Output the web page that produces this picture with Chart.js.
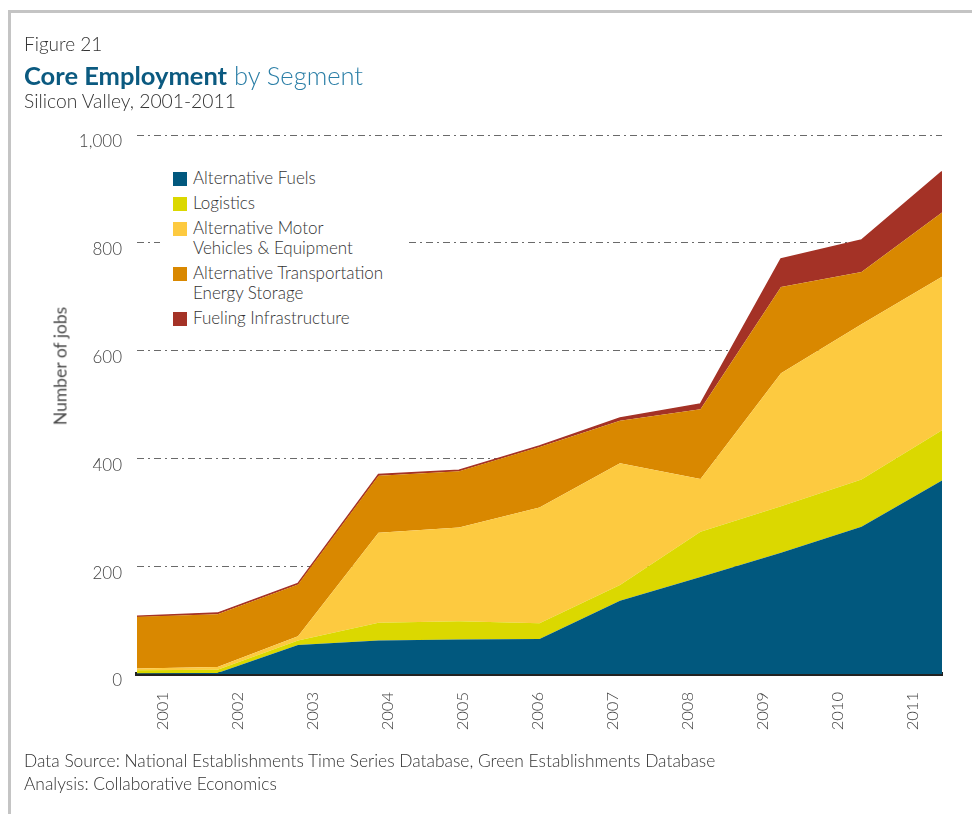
<!DOCTYPE html>
<html>
<head>
<meta charset="utf-8">
<script src="https://cdn.jsdelivr.net/npm/chart.js@4/dist/chart.umd.min.js"></script>
<style>
  html, body { margin: 0; padding: 0; background: #fff; }
  body { width: 972px; height: 814px; position: relative; overflow: hidden; font-family: Lato, "Open Sans", sans-serif; color: #333; }
  #frame { position: absolute; left: 8px; top: 10px; width: 980px; height: 820px; border-top: 3px solid #c4c4c4; border-left: 3px solid #c4c4c4; }
  #canvasWrap { position: absolute; left: 0; top: 0; width: 972px; height: 814px; }
  .t { position: absolute; left: 24px; white-space: nowrap; }
  #fig { top: 32px; font-size: 19px; font-weight: 300; }
  #title { top: 60px; font-size: 25.5px; color: #2a7ea6; font-weight: 300; }
  #title b { color: #0b5a80; font-weight: 700; }
  #sub { top: 89px; font-size: 19.3px; font-weight: 300; }
  #src { top: 749px; font-size: 17.4px; line-height: 23px; font-weight: 300; }
  #ytitle { position: absolute; left: 60px; top: 366px; transform: translate(-50%, -50%) rotate(-90deg); font-size: 17.5px; font-weight: 400; white-space: nowrap; color: #4a4a4a; }
  #legend { position: absolute; left: 160px; top: 166px; width: 245px; background: #fff; padding: 2px 0 4px 0; }
  .li { position: relative; padding-left: 33px; font-size: 17px; line-height: 20px; margin-bottom: 5px; font-weight: 300; }
  .li span { position: absolute; left: 13px; top: 4px; width: 14px; height: 14px; }
</style>
</head>
<body>
<div id="frame"></div>
<div id="canvasWrap"><canvas id="c" width="972" height="814"></canvas></div>
<div class="t" id="fig">Figure 21</div>
<div class="t" id="title"><b>Core Employment</b> by Segment</div>
<div class="t" id="sub">Silicon Valley, 2001-2011</div>
<div class="t" id="src">Data Source: National Establishments Time Series Database, Green Establishments Database<br>Analysis: Collaborative Economics</div>
<div id="ytitle">Number of jobs</div>
<div id="legend"></div>
<script>
// ---- data ----
const YEARS = [2001, 2002, 2003, 2004, 2005, 2006, 2007, 2008, 2009, 2010, 2011];
const SERIES_NAMES = [
  "Alternative Fuels",
  "Logistics",
  "Alternative Motor\nVehicles & Equipment",
  "Alternative Transportation\nEnergy Storage",
  "Fueling Infrastructure"
];
const alternativeFuels   = [1, 2, 54, 62, 64, 65, 136, 180, 225, 273, 359];
const logistics          = [6, 6, 8, 33, 34, 29, 29, 84, 86, 88, 93];
const motorVehicles      = [3, 5, 8, 167, 174, 215, 226, 98, 247, 288, 285];
const energyStorage      = [96, 98, 96, 106, 104, 112, 79, 129, 160, 97, 119];
const fuelingInfra       = [1, 2, 2, 2, 2, 2, 5, 10, 52, 59, 76];
const Y_TICKS = [0, 200, 400, 600, 800, 1000];

const SERIES = [alternativeFuels, logistics, motorVehicles, energyStorage, fuelingInfra];
const COLORS = ["#01587e", "#dbd800", "#fdca40", "#d98800", "#a43226"];

// legend (HTML, multi-line labels)
const lg = document.getElementById('legend');
SERIES_NAMES.forEach((n, i) => {
  const d = document.createElement('div');
  d.className = 'li';
  d.innerHTML = '<span style="background:' + COLORS[i] + '"></span>' + n.replace('\n', '<br>');
  lg.appendChild(d);
});

const datasets = SERIES.map((vals, i) => ({
  label: SERIES_NAMES[i],
  data: vals.map((v, k) => ({ x: YEARS[k], y: v })),
  backgroundColor: COLORS[i],
  borderColor: COLORS[i],
  borderWidth: i === 4 ? 1.5 : 0,
  pointRadius: 0,
  tension: 0,
  fill: i === 0 ? 'origin' : '-1',
  xAxisID: 'x'
}));

new Chart(document.getElementById('c'), {
  type: 'line',
  data: { datasets },
  options: {
    responsive: false,
    animation: false,
    layout: { padding: { left: 40, right: 30, top: 135, bottom: 80 } },
    plugins: { legend: { display: false }, tooltip: { enabled: false } },
    scales: {
      x: {
        type: 'linear', min: 2001, max: 2011, display: false
      },
      xl: {
        type: 'linear', position: 'bottom',
        min: 2001 - 26 / 75, max: 2001 - 26 / 75 + 805 / 75,
        afterBuildTicks: (s) => { s.ticks = YEARS.map(v => ({ value: v })); },
        afterFit: (s) => { s.height = 60; },
        grid: { display: false, drawTicks: false },
        border: { display: true, color: '#222', width: 4 },
        ticks: {
          autoSkip: false, minRotation: 90, maxRotation: 90, padding: 18,
          font: { family: 'Lato', size: 16.5, weight: 300 }, color: '#444',
          callback: (v) => String(v)
        }
      },
      y: {
        stacked: true, min: 0, max: 1000,
        afterBuildTicks: (s) => { s.ticks = Y_TICKS.map(v => ({ value: v })); },
        afterFit: (s) => { s.width = 97; },
        border: { display: false, dash: [7, 4, 2, 4] },
        grid: {
          drawTicks: false,
          color: (ctx) => ctx.tick && ctx.tick.value === 0 ? 'rgba(0,0,0,0)' : '#6a6a6a',
          lineWidth: 1
        },
        ticks: {
          padding: 15, labelOffset: 7,
          font: { family: 'Lato', size: 17, weight: 300 }, color: '#444',
          callback: (v) => v.toLocaleString('en-US')
        },
        title: { display: false }
      }
    }
  }
});
</script>
</body>
</html>
